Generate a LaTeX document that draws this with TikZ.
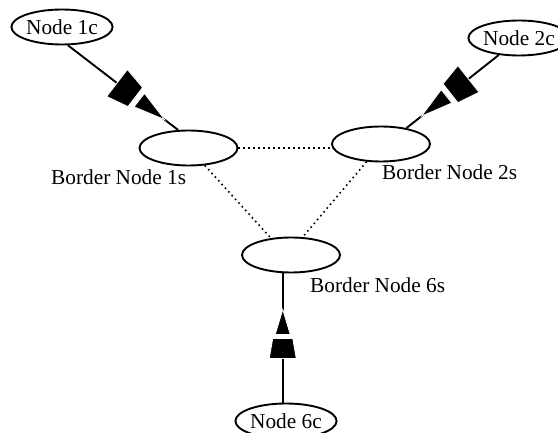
\documentclass[tikz,border=0pt]{standalone}
\usepackage{fontspec}
\setmainfont{Liberation Serif}
\usetikzlibrary{shapes.geometric,decorations.markings}
\newcommand\twohead[6]{% L, B, t, w1, g, w2
  \fill[black, draw=white, line width=0.8pt, miter limit=10]
    (-#1,#2/2) -- (-#1+#3,#4/2) -- (-#1+#3,-#4/2) -- (-#1,-#2/2) -- cycle;
  \fill[black, draw=white, line width=0.8pt, miter limit=10]
    (-#1+#3+#5,#6/2) -- (0,0) -- (-#1+#3+#5,-#6/2) -- cycle;
  \fill[white] (-#1+#3+0.4,-#2/2) rectangle (-#1+#3+#5-0.4,#2/2);}
\begin{document}
\begin{tikzpicture}[x=1pt,y=-1pt,
  every node/.style={font=\fontsize{21.3}{24}\selectfont},
  ell/.style={ellipse, draw, line width=1.9pt, minimum width=98pt, minimum height=35pt, inner sep=0pt},
  lbl/.style={anchor=base west, inner sep=0pt},
  link/.style={line width=1.9pt},
  dots/.style={line width=1.6pt, dash pattern=on 1.6pt off 3.4pt},
  diagarrow/.style={postaction={decorate, decoration={markings, mark=at position #1 with {\twohead{60}{34}{23}{24}{5}{17}}}}},
  vertarrow/.style={postaction={decorate, decoration={markings, mark=at position #1 with {\twohead{49}{27}{20}{20}{4}{15}}}}}
]
\fill[white] (0,0) rectangle (558,433);
\useasboundingbox (0,0) rectangle (558,433);

\node[ell] (n1c) at (62,27) {Node 1c};
\node[ell] (n2c) at (519,38) {Node 2c};
\node[ell] (n1s) at (188.5,148) {};
\node[ell] (n2s) at (381,144) {};
\node[ell] (n6s) at (291,255) {};
\node[ell] (n6c) at (286,421) {Node 6c};

\node[lbl] (l1s) at (51,185) {Border Node 1s};
\node[lbl] (l2s) at (382,180) {Border Node 2s};
\node[lbl] (l6s) at (310,293) {Border Node 6s};

\draw[link, diagarrow={-17pt}] (n1c.-72) -- (n1s.120);
\draw[link, diagarrow={-19pt}] (n2c.-140) -- (n2s.32);
\draw[link, vertarrow={-36pt}] (n6c.100) -- (n6c.100 |- n6s.south);

\draw[dots] (n1s.east) -- (n1s.east -| n2s.west);
\draw[dots] (n1s.-47) -- (n6s.140);
\draw[dots] (n2s.-129) -- (n6s.57);
\end{tikzpicture}
\end{document}
